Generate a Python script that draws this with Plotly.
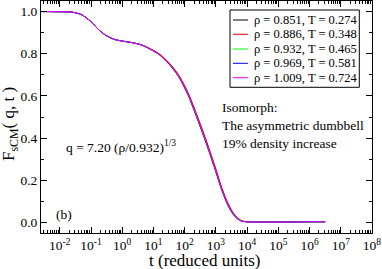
import plotly.graph_objects as go

# ---- data ----
t = [0.0025, 0.01, 0.0251, 0.0501, 0.1, 0.178, 0.316, 0.562, 1.0, 2.0, 3.98,
     7.94, 15.8, 31.6, 63.1, 126, 251, 501, 1000, 1585, 2512, 3981, 6310,
     10000, 31623, 1e5, 3.16e5, 1e6, 3.16e6]

F_0851 = [1.000, 0.999, 0.997, 0.985, 0.952, 0.913, 0.885, 0.868, 0.860, 0.853,
          0.843, 0.823, 0.797, 0.755, 0.698, 0.614, 0.502, 0.380, 0.248, 0.156,
          0.083, 0.034, 0.009, 0.003, 0.002, 0.002, 0.002, 0.003, 0.003]
F_0886 = [1.000, 0.999, 0.997, 0.985, 0.952, 0.913, 0.885, 0.868, 0.860, 0.853,
          0.843, 0.824, 0.798, 0.757, 0.701, 0.618, 0.507, 0.386, 0.254, 0.161,
          0.087, 0.037, 0.010, 0.003, 0.002, 0.002, 0.003, 0.004, 0.004]
F_0932 = [1.000, 0.999, 0.997, 0.985, 0.952, 0.913, 0.885, 0.868, 0.860, 0.853,
          0.842, 0.821, 0.794, 0.750, 0.692, 0.606, 0.492, 0.370, 0.238, 0.148,
          0.076, 0.029, 0.007, 0.003, 0.002, 0.002, 0.002, 0.003, 0.003]
F_0969 = [1.000, 0.999, 0.997, 0.985, 0.952, 0.913, 0.885, 0.868, 0.860, 0.853,
          0.842, 0.821, 0.794, 0.751, 0.693, 0.607, 0.494, 0.372, 0.240, 0.149,
          0.077, 0.030, 0.007, 0.003, 0.002, 0.002, 0.002, 0.003, 0.003]
F_1009 = [1.000, 0.999, 0.997, 0.985, 0.952, 0.913, 0.885, 0.868, 0.860, 0.853,
          0.842, 0.822, 0.795, 0.752, 0.695, 0.610, 0.497, 0.375, 0.243, 0.152,
          0.080, 0.032, 0.008, 0.003, 0.002, 0.002, 0.002, 0.003, 0.003]

series_values = [F_0851, F_0886, F_0932, F_0969, F_1009]
series_labels = ["ρ = 0.851, T = 0.274", "ρ = 0.886, T = 0.348",
                 "ρ = 0.932, T = 0.465", "ρ = 0.969, T = 0.581",
                 "ρ = 1.009, T = 0.724"]
series_colors = ["#000000", "#ff0000", "#00ff00", "#0000ff", "#ff00ff"]

x_tickvals = [1e-2, 1e-1, 1e0, 1e1, 1e2, 1e3, 1e4, 1e5, 1e6, 1e7, 1e8]
x_ticktext = ["10<sup>-2</sup>", "10<sup>-1</sup>", "10<sup>0</sup>", "10<sup>1</sup>",
              "10<sup>2</sup>", "10<sup>3</sup>", "10<sup>4</sup>", "10<sup>5</sup>",
              "10<sup>6</sup>", "10<sup>7</sup>", "10<sup>8</sup>"]
y_tickvals = [0.0, 0.2, 0.4, 0.6, 0.8, 1.0]
y_ticktext = ["0.0", "0.2", "0.4", "0.6", "0.8", "1.0"]

FONT = "Liberation Serif"
W, H = 382, 269
ML, MR, MT, MB = 41, 10, 1, 36
PW, PH = W - ML - MR, H - MT - MB


def px(x):
    return (x - ML) / PW


def py(y):
    return 1 - (y - MT) / PH


fig = go.Figure()
for vals, lab, col in zip(series_values, series_labels, series_colors):
    fig.add_trace(go.Scatter(x=t, y=vals, mode="lines", name=lab,
                             line=dict(color=col, width=1, shape="spline", smoothing=0.8),
                             showlegend=False))

axis_common = dict(showline=True, linecolor="black", linewidth=1, mirror="ticks",
                   ticks="inside", ticklen=6, tickcolor="black", showgrid=False,
                   zeroline=False, automargin=False,
                   tickfont=dict(family=FONT, size=13.5, color="black"))

fig.update_xaxes(type="log", range=[-2.602, 8.001], tickvals=x_tickvals, ticktext=x_ticktext,
                 minor=dict(ticks="inside", ticklen=3, tickcolor="black", dtick="D1", showgrid=False),
                 **axis_common)
fig.update_yaxes(range=[-0.05, 1.05], tickvals=y_tickvals, ticktext=y_ticktext,
                 minor=dict(ticks="inside", ticklen=3, tickcolor="black", dtick=0.1, showgrid=False),
                 **axis_common)

# legend drawn manually (compact like the reference)
shapes = [dict(type="rect", xref="paper", yref="paper", x0=px(230), x1=px(359.3),
               y0=py(87.3), y1=py(10), line=dict(color="black", width=1), fillcolor="white",
               layer="above")]
annotations = []
rows = [20, 34.3, 49, 63.3, 77.7]
for r, lab, col in zip(rows, series_labels, series_colors):
    shapes.append(dict(type="line", xref="paper", yref="paper", x0=px(233), x1=px(248),
                       y0=py(r), y1=py(r), line=dict(color=col, width=1), layer="above"))
    annotations.append(dict(text=lab, xref="paper", yref="paper", x=px(252), y=py(r),
                            xanchor="left", yanchor="middle", showarrow=False,
                            font=dict(family=FONT, size=12.5, color="black")))

texts = [("Isomorph:", 220, 107.5), ("The asymmetric dumbbell", 220, 125.5),
         ("19% density increase", 220, 143.5),
         ("q = 7.20 (ρ/0.932)<sup>1/3</sup>", 64, 146), ("(b)", 54, 214)]
for txt, x, y in texts:
    annotations.append(dict(text=txt, xref="paper", yref="paper", x=px(x), y=py(y),
                            xanchor="left", yanchor="middle", showarrow=False,
                            font=dict(family=FONT, size=13.5, color="black")))

# axis titles
annotations.append(dict(text="t (reduced units)", xref="paper", yref="paper",
                        x=px(204.5), y=py(260), xanchor="center", yanchor="middle",
                        showarrow=False, font=dict(family=FONT, size=17, color="black")))
annotations.append(dict(text="F<sub>sCM</sub>( q, t )", xref="paper", yref="paper",
                        x=px(10), y=py(124), xanchor="center", yanchor="middle",
                        textangle=-90, showarrow=False,
                        font=dict(family=FONT, size=17, color="black")))

fig.update_layout(width=W, height=H, margin=dict(l=ML, r=MR, t=MT, b=MB),
                  paper_bgcolor="white", plot_bgcolor="white", showlegend=False,
                  shapes=shapes, annotations=annotations,
                  font=dict(family=FONT, color="black"))

fig.write_html("out.html", config={"displayModeBar": False},
               post_script="document.body.style.margin='0px';")
